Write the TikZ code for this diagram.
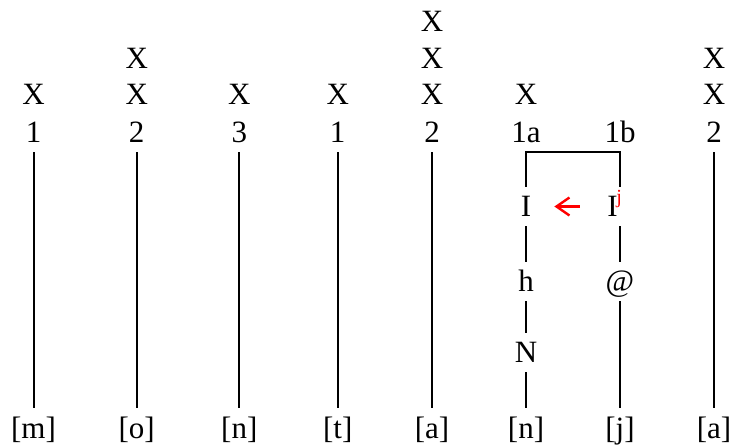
\documentclass[tikz,border=0pt]{standalone}
\usepackage{fontspec}
\setmainfont{Liberation Serif}
\usetikzlibrary{arrows.meta}
\tikzset{
  txt/.style={font=\fontsize{31bp}{36bp}\selectfont, inner xsep=0pt, inner ysep=9bp,
              text height=21bp, text depth=0bp, anchor=base},
  tier/.style={line width=2bp, black},
  shiftarrow/.style={red, line width=2.4bp, -{Straight Barb[length=13bp,width=18bp,line width=2.4bp]},
                     shorten <=27.5bp, shorten >=23bp}
}
\begin{document}
\begin{tikzpicture}[x=1bp,y=-1bp]
\useasboundingbox (0,0) rectangle (732,448);
% X rows
\node[txt] (xa1) at (33.5,104.5) {X};
\node[txt] (xb1) at (136.7,104.5) {X};
\node[txt] (xb2) at (136.7,68.3) {X};
\node[txt] (xc1) at (239.3,104.5) {X};
\node[txt] (xd1) at (337.7,104.5) {X};
\node[txt] (xe1) at (432,104.5) {X};
\node[txt] (xe2) at (432,68.3) {X};
\node[txt] (xe3) at (432,32) {X};
\node[txt] (xf1) at (526,104.5) {X};
\node[txt] (xh1) at (714,104.5) {X};
\node[txt] (xh2) at (714,68.3) {X};
% numbers
\node[txt] (n1) at (33.5,143) {1};
\node[txt] (n2) at (136.7,143) {2};
\node[txt] (n3) at (239.3,143) {3};
\node[txt] (n4) at (337.7,143) {1};
\node[txt] (n5) at (432,143) {2};
\node[txt] (n6) at (526,143) {1a};
\node[txt] (n7) at (620,143) {1b};
\node[txt] (n8) at (714,143) {2};
% bottom labels
\node[txt] (b1) at (33.5,438) {[m]};
\node[txt] (b2) at (136.7,438) {[o]};
\node[txt] (b3) at (239.3,438) {[n]};
\node[txt] (b4) at (337.7,438) {[t]};
\node[txt] (b5) at (432,438) {[a]};
\node[txt] (b6) at (526,438) {[n]};
\node[txt] (b7) at (620,438) {[j]};
\node[txt] (b8) at (714,438) {[a]};
% intermediate segments
\node[txt] (I1) at (526,217) {I};
\node[txt] (I2) at (614.6,217) {I\kern-1.2bp\raisebox{13bp}{\fontsize{20bp}{20bp}\selectfont\color{red}j}};
\node[txt] (h1) at (526,292) {h};
\node[txt] (at1) at (620,292) {@};
\node[txt] (N1) at (526,363) {N};
% lines
\draw[tier] (n1.south) -- (b1.north);
\draw[tier] (n2.south) -- (b2.north);
\draw[tier] (n3.south) -- (b3.north);
\draw[tier] (n4.south) -- (b4.north);
\draw[tier] (n5.south) -- (b5.north);
\draw[tier] (n8.south) -- (b8.north);
\draw[tier] (I1.north) |- (n7.south) -- (n7.south |- I2.north);
\draw[tier] (I1.south) -- (h1.north);
\draw[tier] (h1.south) -- (N1.north);
\draw[tier] (N1.south) -- (b6.north);
\draw[tier] (n7.south |- I2.south) -- (at1.north);
\draw[tier] (at1.south) -- (b7.north);
% red arrow
\draw[shiftarrow] (I2.west) -- (I1.east);
\end{tikzpicture}
\end{document}
